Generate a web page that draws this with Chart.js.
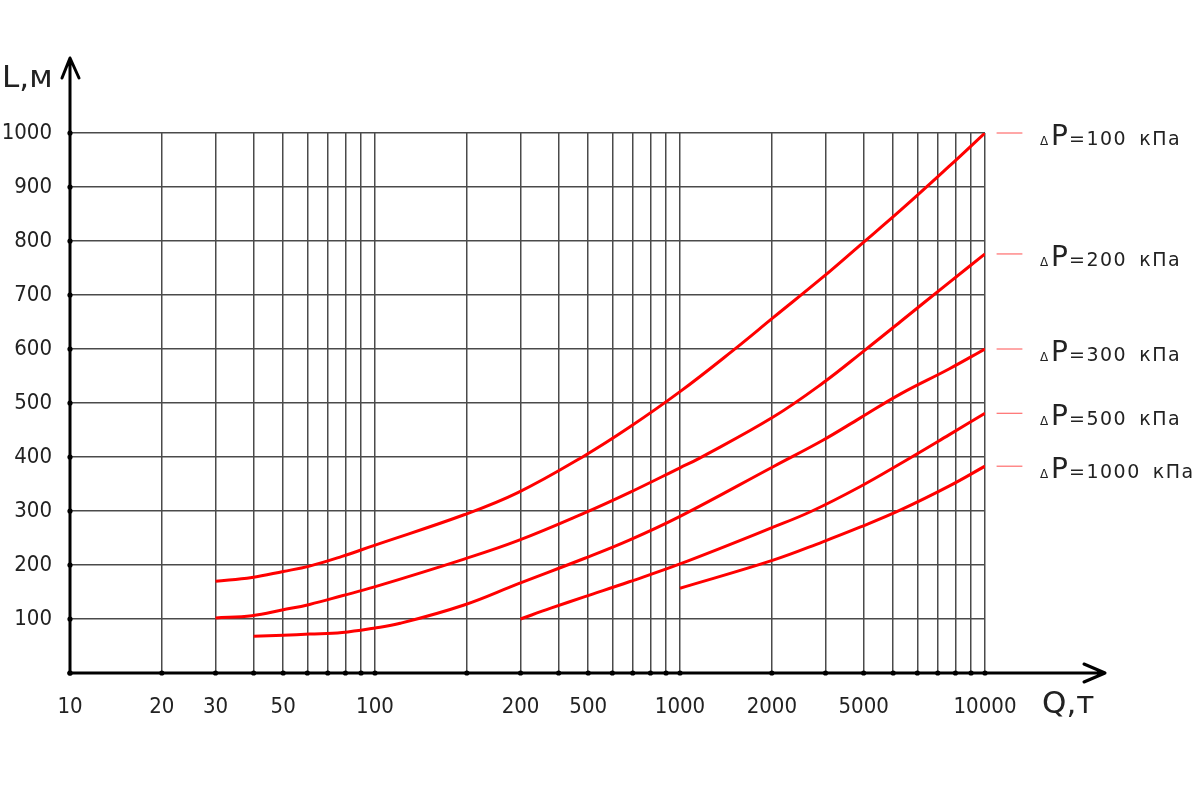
<!DOCTYPE html>
<html>
<head>
<meta charset="utf-8">
<title>L(Q)</title>
<script src="https://cdn.jsdelivr.net/npm/chart.js@4.4.1/dist/chart.umd.min.js"></script>
<style>
    html, body { margin: 0; padding: 0; background: #fff; }
    #wrap { width: 1200px; height: 800px; }
</style>
</head>
<body>
<div id="wrap"><canvas id="myChart" width="1200" height="800"></canvas></div>
<script>
// grid of the log axis Q and where its labels sit (labels copied as printed)
const xGrid = [10, 20, 30, 40, 50, 60, 70, 80, 90,
               100, 200, 300, 400, 500, 600, 700, 800, 900,
               1000, 2000, 3000, 4000, 5000, 6000, 7000, 8000, 9000, 10000];
const xTickValues = [10, 20, 30, 50, 100, 300, 500, 1000, 2000, 4000, 10000];
const xTickLabels = ['10', '20', '30', '50', '100', '200', '500', '1000', '2000', '5000', '10000'];
const yGrid = [0, 100, 200, 300, 400, 500, 600, 700, 800, 900, 1000];

// ΔP values, kPa
const pressures = ['100', '200', '300', '500', '1000'];

// curves: Q (т) and L (м)
const q100 = [30, 39.5, 50, 61, 78, 99, 196, 294, 485, 682, 1000, 1490, 2020, 2940, 3890, 5290, 7620, 10000];
const l100 = [170, 177, 188, 198, 216, 236, 293, 334, 402, 455, 521, 597, 658, 733, 792, 857, 938, 1000];

const q200 = [30, 39.5, 50, 61, 78, 99, 196, 294, 485, 682, 1000, 1160, 2020, 2940, 4040, 5290, 7620, 10000];
const l200 = [102, 106, 117, 127, 143, 159, 211, 245, 296, 334, 380, 398, 474, 537, 598, 651, 723, 776];

const q300 = [40, 50, 61, 78, 99, 121, 196, 294, 485, 682, 1000, 2020, 2940, 3890, 5290, 7620, 10000];
const l300 = [68, 70, 72, 75, 83, 92, 126, 165, 212, 246, 290, 382, 431, 472, 517, 563, 600];

const q500 = [300, 377, 485, 682, 1000, 2020, 2710, 3890, 5290, 7620, 10000];
const l500 = [100, 120, 141, 169, 202, 270, 300, 345, 388, 441, 481];

const q1000 = [1000, 2020, 2940, 3890, 5290, 7620, 10000];
const l1000 = [157, 209, 243, 270, 302, 346, 383];

const curves = [[q100, l100], [q200, l200], [q300, l300], [q500, l500], [q1000, l1000]];

const tickFont = "'DejaVu Sans Condensed', 'DejaVu Sans', sans-serif";
const textColor = '#222';
const gridColor = '#4a4a4a';

// axes with arrows, dots on the axes, axis names and the ΔP notes on the right
const drawingPlugin = {
    id: 'drawing',
    afterDraw(chart) {
        const ctx = chart.ctx;
        const xs = chart.scales.x;
        const ys = chart.scales.y;
        const x0 = xs.getPixelForValue(10);
        const y0 = ys.getPixelForValue(0);

        ctx.save();
        ctx.strokeStyle = '#000';
        ctx.lineWidth = 3;
        ctx.lineCap = 'round';
        ctx.lineJoin = 'round';

        ctx.beginPath();
        ctx.moveTo(x0, y0);
        ctx.lineTo(x0, 58);
        ctx.moveTo(x0 - 8, 78);
        ctx.lineTo(x0, 58);
        ctx.lineTo(x0 + 9, 78);

        ctx.moveTo(x0, y0);
        ctx.lineTo(1105, y0);
        ctx.moveTo(1084, y0 - 9);
        ctx.lineTo(1105, y0);
        ctx.lineTo(1084, y0 + 9);
        ctx.stroke();

        // dots
        ctx.fillStyle = '#000';
        xGrid.forEach(v => {
            ctx.beginPath();
            ctx.arc(xs.getPixelForValue(v), y0, 2.6, 0, Math.PI * 2);
            ctx.fill();
        });
        yGrid.forEach(v => {
            ctx.beginPath();
            ctx.arc(x0, ys.getPixelForValue(v), 2.6, 0, Math.PI * 2);
            ctx.fill();
        });

        // axis names
        ctx.fillStyle = textColor;
        ctx.textBaseline = 'alphabetic';
        ctx.textAlign = 'left';
        ctx.font = "31px 'DejaVu Sans'";
        ctx.fillText('L,м', 2, 87);
        ctx.fillText('Q,т', 1042, 713);

        // ΔP notes
        chart.data.datasets.forEach((ds, i) => {
            const last = ds.data[ds.data.length - 1];
            const y = ys.getPixelForValue(last.y);

            ctx.strokeStyle = '#ff5050';
            ctx.lineWidth = 1;
            ctx.beginPath();
            ctx.moveTo(997, y);
            ctx.lineTo(1022, y);
            ctx.stroke();

            const base = y + 12;
            ctx.fillStyle = textColor;
            ctx.letterSpacing = '0px';
            ctx.font = "12px 'DejaVu Sans'";
            ctx.fillText('Δ', 1040, base);
            ctx.font = "28px 'DejaVu Sans'";
            ctx.fillText('P', 1051, base);
            ctx.font = "19px 'DejaVu Sans'";
            ctx.letterSpacing = '1.5px';
            const head = '=' + pressures[i];
            ctx.fillText(head, 1069, base);
            ctx.fillText('кПа', 1069 + ctx.measureText(head).width + 12, base);
        });
        ctx.restore();
    }
};

const ctx = document.getElementById('myChart').getContext('2d');
const myChart = new Chart(ctx, {
    type: 'line',
    data: {
        datasets: curves.map((c, i) => ({
            label: 'ΔP=' + pressures[i] + ' кПа',
            data: c[0].map((q, j) => ({ x: q, y: c[1][j] })),
            borderColor: '#ff0000',
            borderWidth: 3,
            pointRadius: 0,
            fill: false,
            tension: 0.4
        }))
    },
    options: {
        responsive: false,
        animation: false,
        layout: {
            padding: { top: 133, right: 215, bottom: 0, left: 0 }
        },
        plugins: {
            legend: { display: false },
            tooltip: { enabled: false }
        },
        scales: {
            x: {
                type: 'logarithmic',
                min: 10,
                max: 10000,
                afterBuildTicks: scale => {
                    scale.ticks = xGrid.map(v => ({ value: v }));
                },
                afterFit: scale => {
                    scale.height = 127;
                },
                border: { display: false },
                grid: { color: gridColor, lineWidth: 1.5, drawTicks: false },
                ticks: {
                    autoSkip: false,
                    maxRotation: 0,
                    minRotation: 0,
                    padding: 21,
                    color: textColor,
                    font: { family: tickFont, size: 22 },
                    callback: value => {
                        const k = xTickValues.indexOf(value);
                        return k < 0 ? '' : xTickLabels[k];
                    }
                }
            },
            y: {
                min: 0,
                max: 1000,
                afterBuildTicks: scale => {
                    scale.ticks = yGrid.map(v => ({ value: v }));
                },
                afterFit: scale => {
                    scale.width = 70;
                },
                border: { display: false },
                grid: { color: gridColor, lineWidth: 1.5, drawTicks: false },
                ticks: {
                    padding: 18,
                    color: textColor,
                    font: { family: tickFont, size: 22 },
                    callback: value => value === 0 ? '' : String(value)
                }
            }
        }
    },
    plugins: [drawingPlugin]
});
</script>
</body>
</html>
